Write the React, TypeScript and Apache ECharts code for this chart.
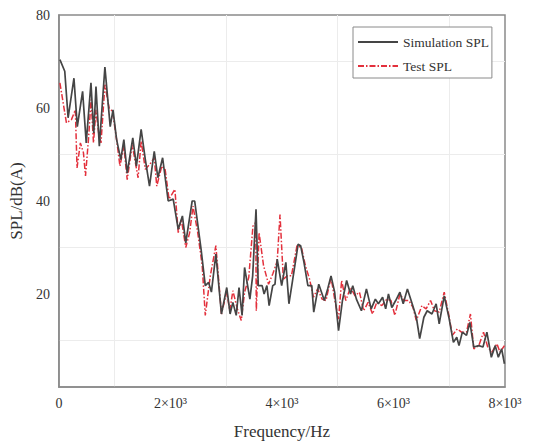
import React, { useEffect, useRef } from "react";
import * as echarts from "echarts";

const simFreq = [18, 105, 165, 270, 330, 425, 490, 575, 625, 665, 725, 825, 920, 970, 1035, 1110, 1165, 1225, 1325, 1390, 1475, 1550, 1625, 1710, 1775, 1860, 1960, 2050, 2140, 2215, 2275, 2390, 2435, 2550, 2625, 2685, 2735, 2815, 2915, 3010, 3070, 3120, 3180, 3230, 3285, 3330, 3425, 3475, 3535, 3575, 3645, 3680, 3730, 3770, 3835, 3875, 3915, 3995, 4070, 4125, 4190, 4290, 4335, 4395, 4465, 4535, 4570, 4660, 4720, 4760, 4820, 4880, 4945, 5015, 5085, 5160, 5230, 5270, 5335, 5425, 5515, 5600, 5675, 5730, 5805, 5860, 5910, 5970, 6040, 6115, 6175, 6250, 6335, 6410, 6470, 6545, 6605, 6690, 6765, 6820, 6910, 7000, 7075, 7135, 7175, 7235, 7310, 7370, 7440, 7530, 7605, 7675, 7755, 7825, 7880, 7940, 7990];
const simSPL = [70.4, 67.9, 57.9, 66.4, 56, 63.6, 52.5, 65.4, 54.6, 64.6, 51.8, 68.8, 56, 59.6, 53.2, 48.9, 53.2, 46, 53.6, 47.5, 55.4, 48.9, 43.2, 50.7, 45, 49.3, 40, 40.4, 33.9, 36.8, 31, 40, 40, 29.6, 21.8, 22.5, 20.4, 28.6, 15.7, 21.4, 15.7, 18.2, 15.4, 21.4, 15.4, 25.7, 18.9, 23.9, 38.2, 21.8, 21.8, 20, 21.8, 17.5, 21.8, 22.1, 27.5, 21.8, 26.8, 17.9, 22.9, 30.7, 30.4, 26.8, 21.8, 21.8, 16.1, 22.1, 20, 18.6, 21.1, 23.9, 20.4, 12.1, 18.6, 22.9, 20, 21.8, 18.9, 16.4, 21.1, 16.8, 18.9, 17.9, 19.3, 16.8, 20, 17.1, 18.6, 20.4, 17.9, 21.1, 17.9, 15, 10.4, 15, 16.4, 15.7, 17.9, 13.6, 19.6, 14.6, 9.6, 10.7, 8.9, 11.8, 11.1, 13.9, 8.6, 8.9, 8.6, 11.8, 6.4, 8.9, 6.4, 8.2, 5];

const testFreq = [18, 135, 225, 295, 325, 385, 440, 477, 530, 577, 620, 665, 713, 755, 825, 900, 960, 1035, 1095, 1165, 1225, 1315, 1420, 1475, 1550, 1630, 1710, 1755, 1845, 1905, 1975, 2080, 2140, 2195, 2275, 2345, 2405, 2490, 2570, 2625, 2715, 2815, 2915, 3010, 3065, 3120, 3200, 3270, 3330, 3405, 3480, 3530, 3540, 3590, 3670, 3760, 3835, 3915, 3965, 4025, 4095, 4170, 4270, 4350, 4420, 4495, 4565, 4640, 4720, 4790, 4880, 4955, 5015, 5070, 5145, 5230, 5310, 5390, 5465, 5545, 5625, 5700, 5790, 5880, 5955, 6025, 6115, 6190, 6275, 6350, 6410, 6510, 6585, 6665, 6735, 6820, 6910, 7000, 7055, 7145, 7220, 7310, 7380, 7440, 7530, 7615, 7690, 7765, 7855, 7910, 7990];
const testSPL = [65.4, 56.8, 57.5, 59.6, 47.1, 52.5, 50.4, 45.4, 53.2, 61.8, 52.5, 59.6, 54.6, 52.5, 65, 60, 59.3, 53.2, 47.5, 51.8, 44.6, 52.1, 45, 52.9, 46.8, 47.9, 49.3, 43.2, 47.5, 46.8, 40.4, 42.5, 33.2, 36.1, 30, 33.2, 38.9, 33.2, 26.1, 15.4, 23.9, 30.4, 15.7, 20.4, 16.4, 20.7, 16.8, 14.3, 20.4, 23.6, 34.6, 35.4, 16.4, 33.2, 26.1, 22.1, 24.3, 27.1, 37.1, 23.2, 23.9, 23.9, 30.4, 30, 26.1, 23.2, 19.3, 21.1, 18.9, 18.6, 23.6, 18.2, 14.6, 22.9, 18.6, 21.4, 19.6, 20.4, 16.4, 18.2, 15.7, 18.2, 17.5, 18.9, 18.6, 15.4, 20, 18.6, 18.6, 17.1, 14.3, 17.5, 16.8, 18.6, 16.4, 16.1, 20.4, 15, 11.1, 12.5, 11.8, 11.8, 15.7, 8.2, 8.9, 11.8, 8.6, 7.5, 9.3, 7.5, 8.9];

const xTicks = [0, 2000, 4000, 6000, 8000];
const yTicks = [20, 40, 60, 80];

const FONT = "'Liberation Serif', 'Times New Roman', serif";

export default function App() {
  const ref = useRef<HTMLDivElement>(null);
  useEffect(() => {
    if (!ref.current) return;
    const chart = echarts.init(ref.current, undefined, { renderer: "svg" });
    const sim = simFreq.map((f, i) => [f, simSPL[i]]);
    const test = testFreq.map((f, i) => [f, testSPL[i]]);
    chart.setOption({
      animation: false,
      backgroundColor: "#ffffff",
      textStyle: { fontFamily: FONT },
      grid: {
        left: 52,
        right: 29,
        top: 15,
        bottom: 57,
        show: true,
        borderColor: "#8a8a8a",
        borderWidth: 1.5,
      },
      legend: {
        orient: "vertical",
        left: 353,
        top: 27,
        padding: [8, 3, 5, 4],
        itemWidth: 40,
        itemHeight: 14,
        itemGap: 10,
        borderColor: "#8a8a8a",
        borderWidth: 1,
        backgroundColor: "#ffffff",
        itemStyle: { opacity: 0 },
        textStyle: { fontFamily: FONT, fontSize: 13.5, color: "#333" },
        data: ["Simulation SPL", "Test SPL"],
      },
      xAxis: {
        type: "value",
        min: 0,
        max: 8000,
        interval: 2000,
        name: "Frequency/Hz",
        nameLocation: "middle",
        nameGap: 36,
        nameTextStyle: { fontFamily: FONT, fontSize: 17, color: "#333" },
        axisLine: { show: true, lineStyle: { color: "#8a8a8a", width: 1.5 } },
        axisTick: { show: false },
        axisLabel: {
          margin: 9,
          fontFamily: FONT,
          fontSize: 14,
          color: "#333",
          customValues: xTicks,
          formatter: (v: number) => (v === 0 ? "0" : `${v / 1000}×10³`),
        },
        splitLine: { show: false },
        minorTick: { show: false, splitNumber: 2 },
        minorSplitLine: { show: true, lineStyle: { color: "#ececec", width: 1 } },
      },
      yAxis: {
        type: "value",
        min: 0,
        max: 80,
        interval: 20,
        name: "SPL/dB(A)",
        nameLocation: "middle",
        nameGap: 27,
        nameTextStyle: { fontFamily: FONT, fontSize: 17, color: "#333" },
        axisLine: { show: true, lineStyle: { color: "#8a8a8a", width: 1.5 } },
        axisTick: { show: false },
        axisLabel: {
          margin: 9,
          fontFamily: FONT,
          fontSize: 14,
          color: "#333",
          formatter: (v: number) => (yTicks.includes(v) ? String(v) : ""),
        },
        splitLine: { show: false },
        minorTick: { show: false, splitNumber: 2 },
        minorSplitLine: { show: true, lineStyle: { color: "#ececec", width: 1 } },
      },
      series: [
        {
          name: "Test SPL",
          type: "line",
          data: test,
          symbol: "none",
          z: 2,
          lineStyle: { color: "#e3303c", width: 1.5, type: [6, 2, 1.5, 2] },
          itemStyle: { color: "#e3303c" },
        },
        {
          name: "Simulation SPL",
          type: "line",
          data: sim,
          symbol: "none",
          z: 3,
          lineStyle: { color: "#454545", width: 1.7 },
          itemStyle: { color: "#454545" },
        },
      ],
    });
    return () => chart.dispose();
  }, []);
  return (
    <div
      ref={ref}
      style={{ position: "fixed", left: 0, top: 0, width: 534, height: 445 }}
    />
  );
}
